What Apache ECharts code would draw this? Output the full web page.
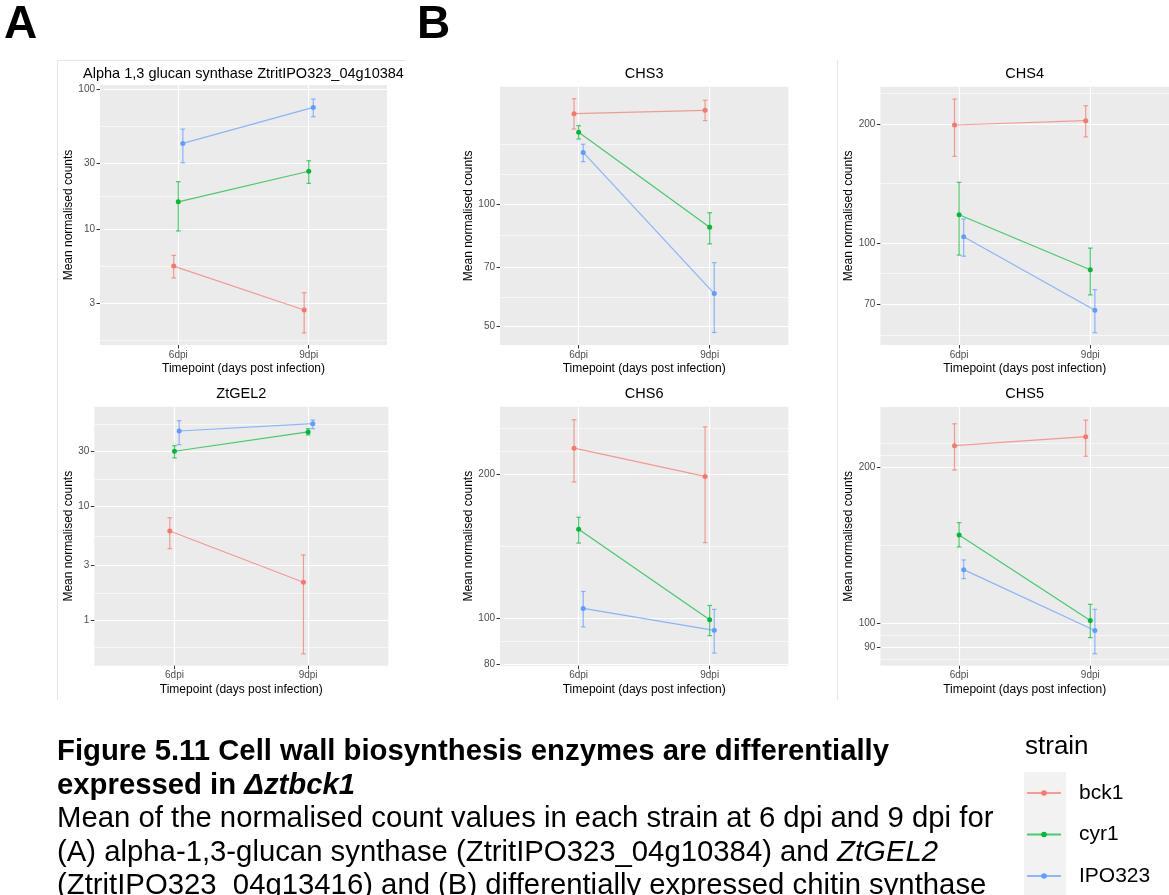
<!DOCTYPE html>
<html>
<head>
<meta charset="utf-8">
<script src="https://cdn.jsdelivr.net/npm/echarts@6/dist/echarts.min.js"></script>
<style>
  html, body { margin: 0; padding: 0; background: #ffffff; }
  #chart { width: 1169px; height: 895px; }
</style>
</head>
<body>
<div id="chart"></div>
<script>
// ---- data ------------------------------------------------------------
const timepoints = ['6dpi', '9dpi'];
const strains = ['bck1', 'cyr1', 'IPO323'];

// rows follow `strains`, columns follow `timepoints`
const glucanMean = [[5.51, 2.68], [15.8, 26.1], [41.2, 74.4]];
const glucanLow  = [[4.53, 1.84], [9.8, 21.4], [30.0, 63.8]];
const glucanHigh = [[6.57, 3.56], [22.0, 31.0], [52.1, 85.3]];
const glucanTicks = [3, 10, 30, 100];
const glucanRange = [1.51, 107.4];

const gel2Mean = [[6.04, 2.14], [30.2, 44.6], [45.5, 52.7]];
const gel2Low  = [[4.22, 0.504], [26.4, 42.0], [34.5, 47.6]];
const gel2High = [[7.89, 3.72], [33.8, 47.6], [56.0, 56.8]];
const gel2Ticks = [1, 3, 10, 30];
const gel2Range = [0.397, 74.3];

const chs3Mean = [[166.5, 169.7], [149.9, 87.7], [133.8, 60.3]];
const chs3Low  = [[152.7, 160.1], [144.3, 79.8], [127.0, 48.4]];
const chs3High = [[181.2, 179.6], [155.6, 95.2], [140.1, 71.8]];
const chs3Ticks = [50, 70, 100];
const chs3Range = [45.1, 193.9];

const chs4Mean = [[198.9, 203.9], [117.9, 85.6], [103.7, 67.6]];
const chs4Low  = [[165.7, 185.5], [93.2, 73.9], [92.6, 59.3]];
const chs4High = [[231.3, 222.5], [142.4, 97.1], [115.0, 76.2]];
const chs4Ticks = [70, 100, 200];
const chs4Range = [55.2, 248.6];

const chs6Mean = [[227.0, 198.1], [153.6, 99.2], [104.8, 94.3]];
const chs6Low  = [[192.8, 143.9], [143.6, 91.9], [95.9, 84.5]];
const chs6High = [[260.4, 251.5], [162.7, 106.3], [113.7, 104.3]];
const chs6Ticks = [80, 100, 200];
const chs6Range = [79.5, 277.3];

const chs5Mean = [[220.2, 229.2], [148.1, 101.2], [126.9, 96.8]];
const chs5Low  = [[197.6, 210.1], [140.4, 93.8], [121.9, 87.3]];
const chs5High = [[242.7, 246.7], [156.4, 108.8], [132.5, 106.4]];
const chs5Ticks = [90, 100, 200];
const chs5Range = [82.8, 261.5];

const panelTitles = ['Alpha 1,3 glucan synthase ZtritIPO323_04g10384', 'ZtGEL2', 'CHS3', 'CHS4', 'CHS6', 'CHS5'];
const panelData = [
  { mean: glucanMean, low: glucanLow, high: glucanHigh, ticks: glucanTicks, range: glucanRange },
  { mean: gel2Mean,   low: gel2Low,   high: gel2High,   ticks: gel2Ticks,   range: gel2Range },
  { mean: chs3Mean,   low: chs3Low,   high: chs3High,   ticks: chs3Ticks,   range: chs3Range },
  { mean: chs4Mean,   low: chs4Low,   high: chs4High,   ticks: chs4Ticks,   range: chs4Range },
  { mean: chs6Mean,   low: chs6Low,   high: chs6High,   ticks: chs6Ticks,   range: chs6Range },
  { mean: chs5Mean,   low: chs5Low,   high: chs5High,   ticks: chs5Ticks,   range: chs5Range }
];

// ---- layout & style ---------------------------------------------------
const FONT = "'Liberation Sans', Arial, Helvetica, sans-serif";
const strainColors = ['#F8766D', '#00BA38', '#619CFF'];
const panelBoxes = [
  { left: 100,   top: 85,    width: 287,   height: 260,   yGap: 25,   titleY: 74 },
  { left: 94.3,  top: 406.7, width: 294,   height: 259,   yGap: 19.3, titleY: 394.3 },
  { left: 500,   top: 86.7,  width: 288.3, height: 258.3, yGap: 24,   titleY: 74 },
  { left: 880.4, top: 86.7,  width: 288.6, height: 258.3, yGap: 25.4, titleY: 74 },
  { left: 500,   top: 406.7, width: 288.3, height: 259,   yGap: 24,   titleY: 394.3 },
  { left: 880.4, top: 407,   width: 288.6, height: 258.7, yGap: 25.4, titleY: 394.3 }
];
const DODGE = 0.105;          // total dodge width, in category units
const CAP_HALF = 2.3;         // half width of error bar caps, px
const LINE_ALPHA = 0.7;

// minor grid positions on a log10 scale: half-way between major breaks,
// with one extra break step beyond the outermost majors
function minorBreaks(ticks, range) {
  const lo = Math.log10(range[0]), hi = Math.log10(range[1]);
  const majors = ticks.map(Math.log10);
  const b = majors.filter(v => v >= lo && v <= hi);
  const bd = b[1] - b[0];
  if (lo < b[0]) b.unshift(b[0] - bd);
  if (hi > b[b.length - 1]) b.push(b[b.length - 1] + bd);
  const out = [];
  for (let i = 0; i < b.length - 1; i++) out.push(b[i], (b[i] + b[i + 1]) / 2);
  out.push(b[b.length - 1]);
  return out
    .filter(v => v > lo && v < hi && !majors.some(m => Math.abs(m - v) < 1e-9))
    .map(v => Math.pow(10, v));
}

function fmtTick(v) {
  return String(Math.round(v * 1000) / 1000);
}

const grids = [], xAxes = [], yAxes = [], series = [], graphics = [];

panelData.forEach((pd, p) => {
  const box = panelBoxes[p];
  grids.push({
    left: box.left, top: box.top, width: box.width, height: box.height,
    show: true, backgroundColor: '#EBEBEB', borderWidth: 0,
    containLabel: false, outerBoundsMode: 'none'
  });

  xAxes.push({
    type: 'value', gridIndex: p, min: 0.4, max: 2.6,
    axisLine: { show: false },
    axisTick: { show: true, customValues: [1, 2], length: 3.5, lineStyle: { color: '#333333', width: 1 } },
    axisLabel: {
      show: true, customValues: [1, 2], margin: 5,
      formatter: v => timepoints[Math.round(v) - 1] || '',
      color: '#4D4D4D', fontSize: 10, fontFamily: FONT
    },
    splitLine: { show: true, lineStyle: { color: '#ffffff', width: 1.2 } },
    name: 'Timepoint (days post infection)', nameLocation: 'middle', nameGap: 18,
    nameTextStyle: { color: '#000000', fontSize: 12, fontFamily: FONT }
  });

  // minor grid axis (lines only)
  yAxes.push({
    type: 'log', logBase: 10, gridIndex: p, position: 'right',
    min: pd.range[0], max: pd.range[1],
    axisLine: { show: false },
    axisTick: { show: false, customValues: minorBreaks(pd.ticks, pd.range) },
    axisLabel: { show: false },
    splitLine: { show: true, lineStyle: { color: '#ffffff', width: 0.6 } }
  });
  // main value axis
  yAxes.push({
    type: 'log', logBase: 10, gridIndex: p, position: 'left',
    min: pd.range[0], max: pd.range[1],
    axisLine: { show: false },
    axisTick: { show: true, customValues: pd.ticks, length: 3.5, lineStyle: { color: '#333333', width: 1 } },
    axisLabel: {
      show: true, customValues: pd.ticks, margin: 5, formatter: fmtTick,
      color: '#4D4D4D', fontSize: 10, fontFamily: FONT
    },
    splitLine: { show: true, lineStyle: { color: '#ffffff', width: 1.2 } },
    name: 'Mean normalised counts', nameLocation: 'middle', nameGap: box.yGap, nameRotate: 90,
    nameTextStyle: { color: '#000000', fontSize: 12, fontFamily: FONT }
  });
  const yIdx = 2 * p + 1;

  strains.forEach((s, j) => {
    const color = strainColors[j];
    const off = (j - 1) * DODGE / 3;

    series.push({
      type: 'custom', name: s, xAxisIndex: p, yAxisIndex: yIdx,
      dimensions: ['x', 'low', 'high'],
      encode: { x: 0, y: [1, 2] },
      data: timepoints.map((t, k) => [k + 1 + off, pd.low[j][k], pd.high[j][k]]),
      renderItem: (params, api) => {
        const x = api.value(0);
        const hi = api.coord([x, api.value(2)]);
        const lo = api.coord([x, api.value(1)]);
        const st = { stroke: color, lineWidth: 1.2, opacity: LINE_ALPHA, fill: null };
        return {
          type: 'group',
          children: [
            { type: 'line', shape: { x1: hi[0], y1: hi[1], x2: lo[0], y2: lo[1] }, style: st },
            { type: 'line', shape: { x1: hi[0] - CAP_HALF, y1: hi[1], x2: hi[0] + CAP_HALF, y2: hi[1] }, style: st },
            { type: 'line', shape: { x1: lo[0] - CAP_HALF, y1: lo[1], x2: lo[0] + CAP_HALF, y2: lo[1] }, style: st }
          ]
        };
      },
      silent: true, z: 3
    });

    series.push({
      type: 'line', name: s, xAxisIndex: p, yAxisIndex: yIdx,
      data: timepoints.map((t, k) => [k + 1 + off, pd.mean[j][k]]),
      symbol: 'circle', symbolSize: 5, showSymbol: true,
      lineStyle: { color: color, width: 1.2, opacity: LINE_ALPHA },
      itemStyle: { color: color, borderWidth: 0 },
      emphasis: { disabled: true }, silent: true, z: 4
    });
  });

  graphics.push({
    type: 'text', x: box.left + box.width / 2, y: box.titleY, silent: true,
    style: {
      text: panelTitles[p], fill: '#000000', fontSize: 14.5, fontFamily: FONT,
      align: 'center', verticalAlign: 'middle'
    }
  });
});

// image frames around the panel groups
graphics.push({
  type: 'polyline', silent: true,
  shape: { points: [[57.5, 700], [57.5, 60.5], [405, 60.5]] },
  style: { stroke: '#E6E6E6', lineWidth: 1, fill: null }
});
graphics.push({
  type: 'line', silent: true,
  shape: { x1: 837.5, y1: 60, x2: 837.5, y2: 700 },
  style: { stroke: '#E6E6E6', lineWidth: 1 }
});

// figure part letters
['A', 'B'].forEach((letter, i) => {
  graphics.push({
    type: 'text', x: i === 0 ? 4 : 417, y: 25, silent: true,
    style: {
      text: letter, fill: '#000000', fontSize: 46, fontWeight: 'bold', fontFamily: FONT,
      align: 'left', verticalAlign: 'middle'
    }
  });
});

// caption
const CAP_SIZE = 29.3;
const capStyle = { fontSize: CAP_SIZE, fontFamily: FONT, fill: '#000000' };
const capRich = {
  b:  { fontSize: CAP_SIZE, fontFamily: FONT, fontWeight: 'bold', fill: '#000000' },
  bi: { fontSize: CAP_SIZE, fontFamily: FONT, fontWeight: 'bold', fontStyle: 'italic', fill: '#000000' },
  i:  { fontSize: CAP_SIZE, fontFamily: FONT, fontStyle: 'italic', fill: '#000000' },
  n:  { fontSize: CAP_SIZE, fontFamily: FONT, fill: '#000000' }
};
const captionLines = [
  '{b|Figure 5.11 Cell wall biosynthesis enzymes are differentially}',
  '{b|expressed in }{bi|\u0394ztbck1}',
  '{n|Mean of the normalised count values in each strain at 6 dpi and 9 dpi for}',
  '{n|(A) alpha-1,3-glucan synthase (ZtritIPO323_04g10384) and }{i|ZtGEL2}',
  '{n|(ZtritIPO323_04g13416) and (B) differentially expressed chitin synthase}'
];
const captionY = [752, 785.5, 819, 852.5, 886];
captionLines.forEach((line, k) => {
  graphics.push({
    type: 'text', x: 57, y: captionY[k], silent: true,
    style: Object.assign({}, capStyle, { text: line, rich: capRich, align: 'left', verticalAlign: 'middle' })
  });
});

// strain legend
graphics.push({
  type: 'text', x: 1025, y: 746.7, silent: true,
  style: { text: 'strain', fill: '#000000', fontSize: 26, fontFamily: FONT, align: 'left', verticalAlign: 'middle' }
});
graphics.push({
  type: 'rect', silent: true,
  shape: { x: 1024, y: 772, width: 42, height: 130 },
  style: { fill: '#F2F2F2' }
});
const keyY = [793, 834.5, 876];
strains.forEach((s, j) => {
  const c = strainColors[j];
  graphics.push({
    type: 'line', silent: true,
    shape: { x1: 1027, y1: keyY[j], x2: 1061, y2: keyY[j] },
    style: { stroke: c, lineWidth: 1.8, opacity: LINE_ALPHA }
  });
  graphics.push({
    type: 'circle', silent: true,
    shape: { cx: 1044, cy: keyY[j], r: 2.8 },
    style: { fill: c }
  });
  graphics.push({
    type: 'text', x: 1079, y: keyY[j], silent: true,
    style: { text: s, fill: '#000000', fontSize: 21, fontFamily: FONT, align: 'left', verticalAlign: 'middle' }
  });
});

const chart = echarts.init(document.getElementById('chart'), null, { renderer: 'canvas' });
chart.setOption({
  animation: false,
  backgroundColor: '#ffffff',
  textStyle: { fontFamily: FONT },
  grid: grids,
  xAxis: xAxes,
  yAxis: yAxes,
  series: series,
  graphic: { elements: graphics }
});
</script>
</body>
</html>
